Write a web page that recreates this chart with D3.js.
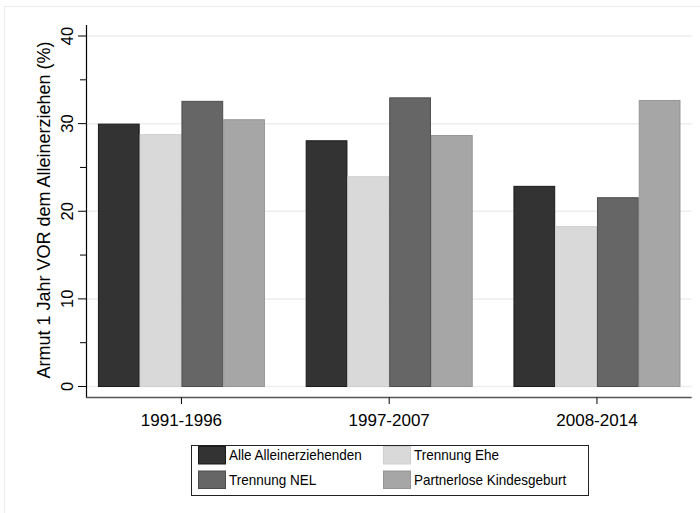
<!DOCTYPE html>
<html><head><meta charset="utf-8">
<script src="https://cdn.jsdelivr.net/npm/d3@7"></script>
<style>body{margin:0;background:#fff;}svg{display:block;font-family:"Liberation Sans",Arial,sans-serif;}</style>
</head><body><svg id="c" width="700" height="513"></svg>
<script>
const categories = ["1991-1996", "1997-2007", "2008-2014"];
const series = ["Alle Alleinerziehenden", "Trennung Ehe", "Trennung NEL", "Partnerlose Kindesgeburt"];
const alleValues = [30.0, 28.1, 22.9];
const eheValues = [28.8, 24.0, 18.3];
const nelValues = [32.6, 33.0, 21.6];
const partnerlosValues = [30.5, 28.7, 32.7];
const yMajorTicks = [0, 10, 20, 30, 40];
const yMinorTicks = [5, 15, 25, 35];
const colors = ["#333333", "#d9d9d9", "#666666", "#a6a6a6"];
const strokes = ["#1a1a1a", "#cfcfcf", "#4d4d4d", "#969696"];
const yTitle = "Armut 1 Jahr VOR dem Alleinerziehen (%)";

const valuesBySeries = [alleValues, eheValues, nelValues, partnerlosValues];
const svg = d3.select("#c");
svg.append("rect").attr("width",700).attr("height",513).attr("fill","#fff");
svg.append("rect").attr("x",4.5).attr("y",6.5).attr("width",720).attr("height",540)
  .attr("fill","none").attr("stroke","#ececec");

const X0 = 86.7, X1 = 691.7;
const y = d3.scaleLinear().domain([0,40]).range([386.5,36]);
const x = d3.scaleBand().domain(categories).range([X0,X1]).paddingInner(0.196).paddingOuter(0.054);
const xs = d3.scaleBand().domain(series).range([0,x.bandwidth()]);

// gridlines
svg.append("g").selectAll("line").data(yMajorTicks).join("line")
  .attr("x1",X0).attr("x2",X1).attr("y1",d=>y(d)).attr("y2",d=>y(d))
  .attr("stroke","#eeeeee").attr("stroke-width",1.5);

// bars
const g = svg.append("g");
categories.forEach((c,ci)=>{
  series.forEach((s,si)=>{
    const v = valuesBySeries[si][ci];
    g.append("rect").attr("x",x(c)+xs(s)+0.5).attr("y",y(v)+0.5)
      .attr("width",xs.bandwidth()-1).attr("height",y(0)-y(v)-0.5)
      .attr("fill",colors[si]).attr("stroke",strokes[si]).attr("stroke-width",1);
  });
});

// y axis
const ya = svg.append("g");
ya.append("line").attr("x1",86.5).attr("x2",86.5).attr("y1",25).attr("y2",398).attr("stroke","#000").attr("stroke-width",1.2);
ya.selectAll("line.maj").data(yMajorTicks).join("line").attr("class","maj")
  .attr("x1",78).attr("x2",86.5).attr("y1",d=>y(d)).attr("y2",d=>y(d)).attr("stroke","#000").attr("stroke-width",1);
ya.selectAll("line.min").data(yMinorTicks).join("line").attr("class","min")
  .attr("x1",80).attr("x2",86.5).attr("y1",d=>y(d)).attr("y2",d=>y(d)).attr("stroke","#000").attr("stroke-width",1);
ya.selectAll("text").data(yMajorTicks).join("text")
  .attr("transform",d=>`translate(72.5,${y(d)}) rotate(-90)`)
  .attr("text-anchor","middle").attr("font-size",16.5).attr("fill","#000").text(d=>d);
svg.append("text").attr("transform",`translate(50,210) rotate(-90)`)
  .attr("text-anchor","middle").attr("font-size",18).attr("fill","#000").text(yTitle);

// x axis
const xa = svg.append("g");
xa.append("line").attr("x1",86).attr("x2",X1).attr("y1",397.5).attr("y2",397.5).attr("stroke","#555").attr("stroke-width",1.3);
xa.selectAll("line").filter(".t").data(categories).join("line").attr("class","t")
  .attr("x1",d=>x(d)+x.bandwidth()/2).attr("x2",d=>x(d)+x.bandwidth()/2)
  .attr("y1",397.5).attr("y2",404).attr("stroke","#000");
xa.selectAll("text").data(categories).join("text")
  .attr("x",d=>x(d)+x.bandwidth()/2).attr("y",425.5)
  .attr("text-anchor","middle").attr("font-size",17).attr("fill","#000").text(d=>d);

// legend
const lg = svg.append("g");
lg.append("rect").attr("x",191.5).attr("y",445.5).attr("width",397).attr("height",50)
  .attr("fill","#fff").attr("stroke","#222").attr("stroke-width",1);
const lpos = [[198.5,446.5],[383.5,446.5],[198.5,471],[383.5,471]];
series.forEach((s,i)=>{
  lg.append("rect").attr("x",lpos[i][0]).attr("y",lpos[i][1]).attr("width",27).attr("height",17.5)
    .attr("fill",colors[i]).attr("stroke",strokes[i]);
  lg.append("text").attr("transform",`translate(${lpos[i][0]+30.5},${lpos[i][1]+13.5}) scale(0.9,1)`)
    .attr("font-size",15).attr("fill","#000").text(s);
});
</script></body></html>
